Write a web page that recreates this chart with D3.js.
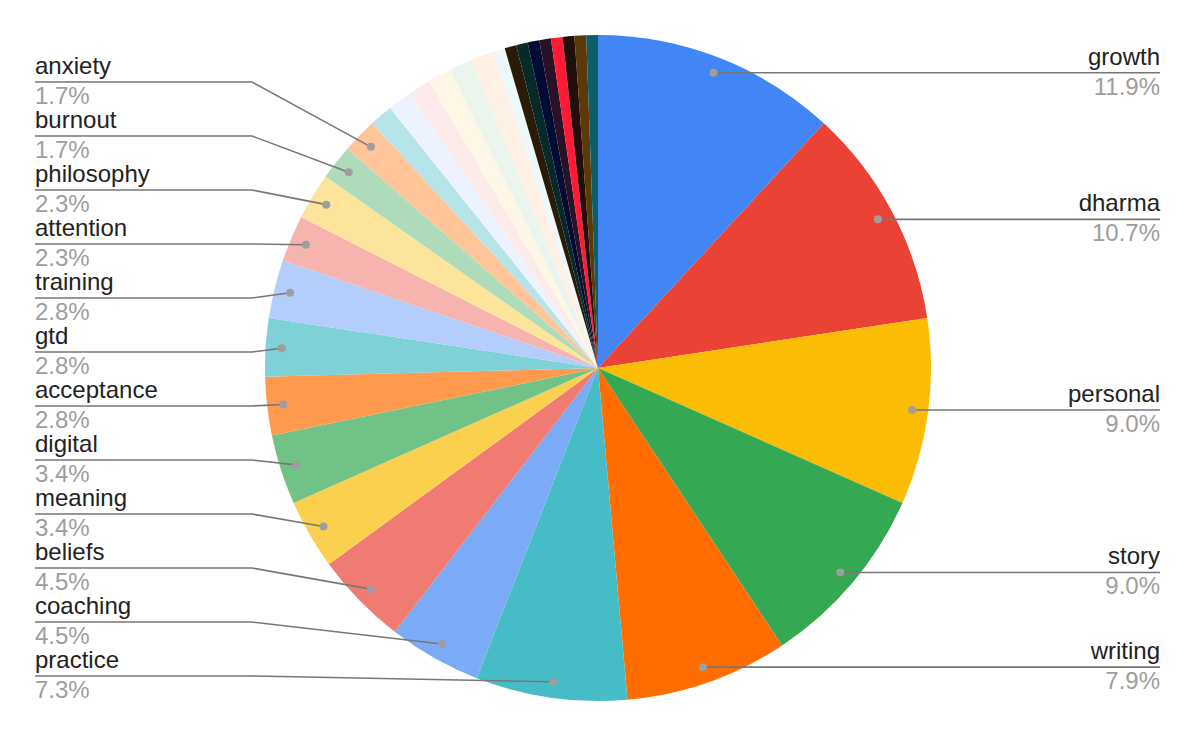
<!DOCTYPE html>
<html>
<head>
<meta charset="utf-8">
<script src="https://cdn.jsdelivr.net/npm/d3@7"></script>
<style>
  html, body { margin: 0; padding: 0; background: #fff; }
  svg { display: block; font-family: "Liberation Sans", Arial, sans-serif; }
</style>
</head>
<body>
<svg id="chart" width="1192" height="736"></svg>
<script>
// ---- Data (counts; total 177) ----
const categories = [
  "growth", "dharma", "personal", "story", "writing", "practice", "coaching",
  "beliefs", "meaning", "digital", "acceptance", "gtd", "training", "attention",
  "philosophy", "burnout", "anxiety",
  "other 1", "other 2", "other 3", "other 4", "other 5", "other 6", "other 7",
  "other 8", "other 9", "other 10", "other 11", "other 12", "other 13", "other 14", "other 15"
];
const values = [
  21, 19, 16, 16, 14, 13, 8,
  8, 6, 6, 5, 5, 5, 4,
  4, 3, 3,
  2, 2, 2, 2, 2, 2, 1,
  1, 1, 1, 1, 1, 1, 1, 1
];
const labeledCount = 17;
const colors = [
  "#4285f4", "#ea4335", "#fbbc04", "#34a853", "#ff6d01", "#46bdc6", "#7baaf7",
  "#f07b72", "#fcd04f", "#71c287", "#ff994d", "#7ed1d7", "#b3cefb", "#f7b4ae",
  "#fde49b", "#aedcba", "#ffc599",
  "#b5e5e8", "#ecf2fe", "#fdebeb", "#fff7e6", "#ebf5ee", "#fff0e5", "#ecf8f9",
  "#2a1a08", "#06292a", "#020c33", "#2a1126", "#ff1a35", "#220e0c", "#5b3a08", "#0c5f68"
];

// ---- Layout ----
const W = 1192, H = 736;
const cx = 598, cy = 368, R = 333;
const dotR = 317;
const leftTextX = 35, leftBendX = 252;
const rightTextX = 1160, rightBendX = 943;
const bottomLimit = 676, labelStep = 54;

const svg = d3.select("#chart");
const total = d3.sum(values);
const data = categories.map((c, i) => ({ name: c, value: values[i], color: colors[i], i }));

const pie = d3.pie().sort(null).value(d => d.value);
const arcs = pie(data);
const arc = d3.arc().innerRadius(0).outerRadius(R);
const dotArc = d3.arc().innerRadius(dotR).outerRadius(dotR);
const fmt = d3.format(".1%");

const g = svg.append("g").attr("transform", `translate(${cx},${cy})`);
g.selectAll("path.slice")
  .data(arcs)
  .join("path")
  .attr("class", "slice")
  .attr("d", arc)
  .attr("fill", d => d.data.color);

// Labels
const labeled = arcs.filter(d => d.data.i < labeledCount);
const items = labeled.map(d => {
  const [x, y] = dotArc.centroid(d);
  const mid = (d.startAngle + d.endAngle) / 2;
  return { d, dx: cx + x, dy: cy + y, side: mid < Math.PI ? "right" : "left" };
});

// right side: at dot height
items.filter(o => o.side === "right").forEach(o => { o.ly = o.dy; });
// left side: stacked upward from the bottom
const left = items.filter(o => o.side === "left");
let prev = null;
left.forEach((o, k) => {
  if (k === 0) o.ly = Math.min(o.dy, bottomLimit);
  else o.ly = prev - labelStep;
  prev = o.ly;
});

const lg = svg.append("g");
items.forEach(o => {
  const pts = o.side === "right"
    ? [[o.dx, o.dy], [Math.max(o.dx, rightBendX), o.ly], [rightTextX, o.ly]]
    : [[o.dx, o.dy], [leftBendX, o.ly], [leftTextX, o.ly]];
  const path = (Math.abs(o.ly - o.dy) < 0.5)
    ? d3.line()([[o.dx, o.dy], pts[2]])
    : d3.line()(pts);
  lg.append("path")
    .attr("d", path)
    .attr("fill", "none")
    .attr("stroke", "#777777")
    .attr("stroke-width", 1.6);
  lg.append("circle")
    .attr("cx", o.dx).attr("cy", o.dy).attr("r", 4)
    .attr("fill", "#9e9e9e");
  const tx = o.side === "right" ? rightTextX : leftTextX;
  const anchor = o.side === "right" ? "end" : "start";
  lg.append("text")
    .attr("x", tx).attr("y", o.ly - 8)
    .attr("text-anchor", anchor)
    .attr("font-size", 24)
    .attr("fill", "#222222")
    .text(o.d.data.name);
  lg.append("text")
    .attr("x", tx).attr("y", o.ly + 22)
    .attr("text-anchor", anchor)
    .attr("font-size", 24)
    .attr("fill", "#9e9e9e")
    .text(fmt(o.d.data.value / total));
});
</script>
</body>
</html>
